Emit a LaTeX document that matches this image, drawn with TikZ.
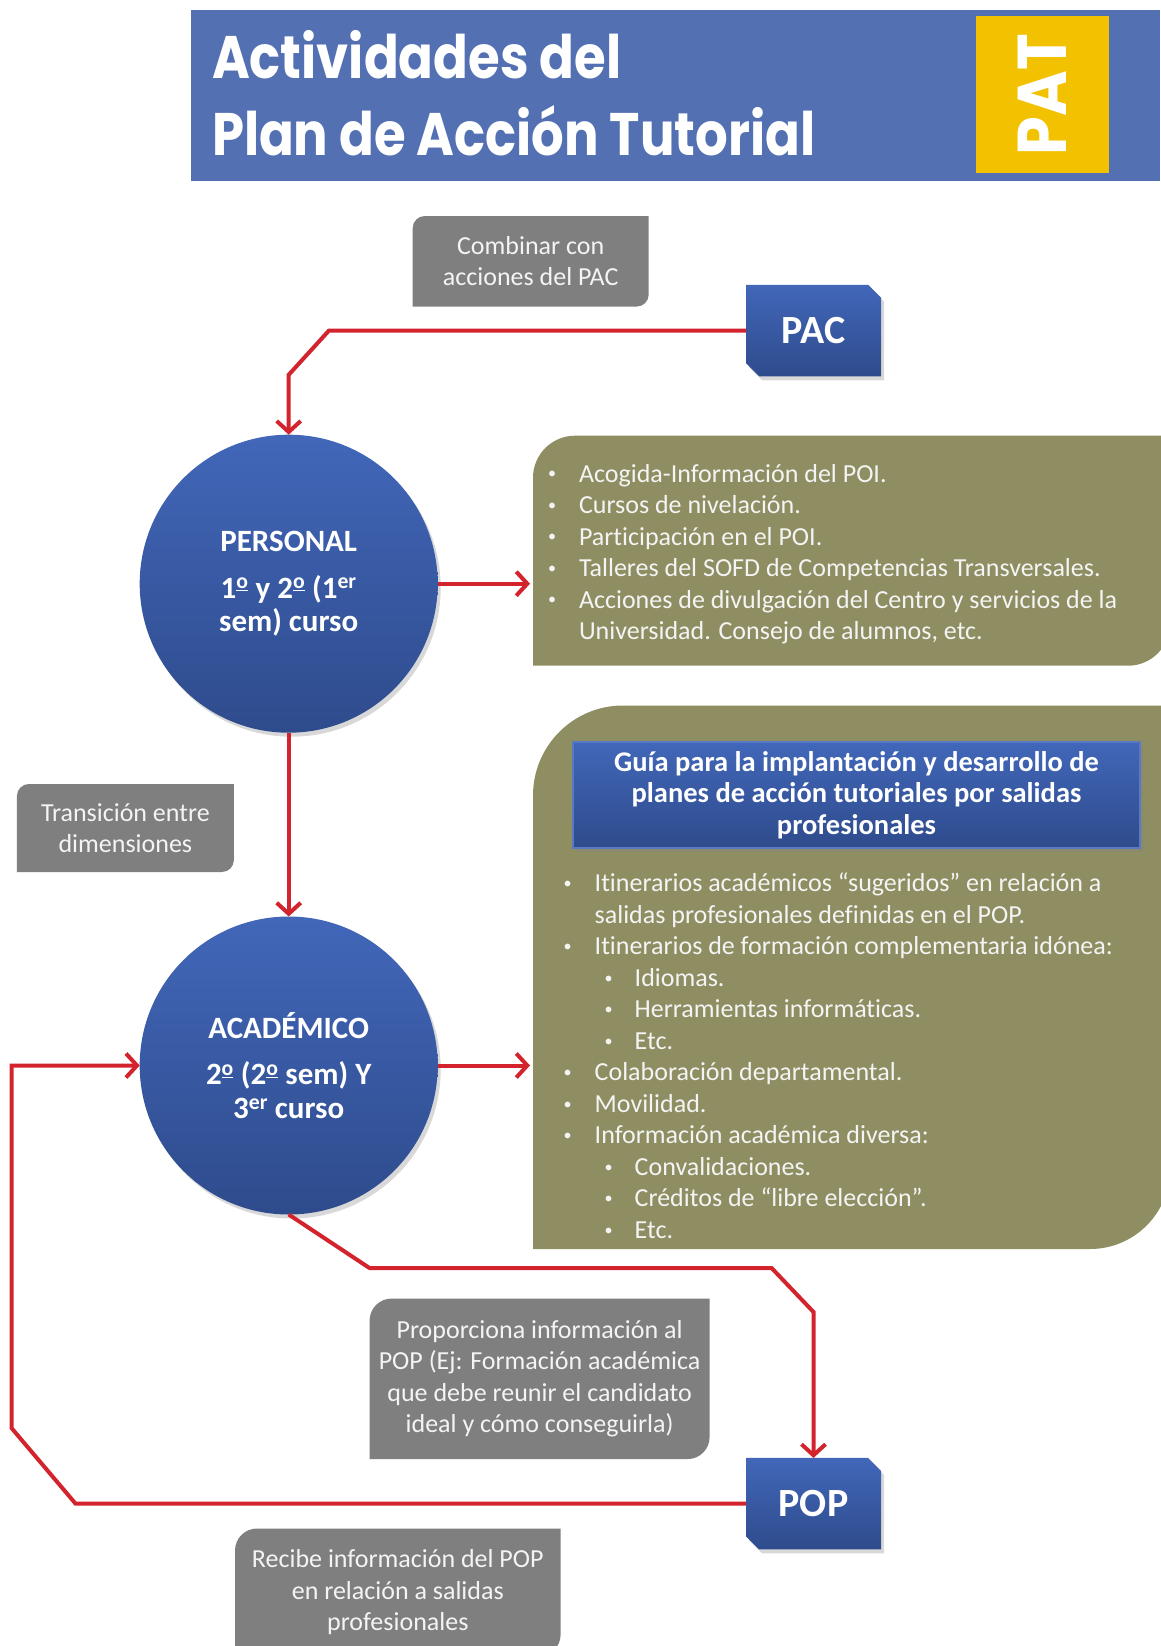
\documentclass[tikz,border=0pt]{standalone}
\usepackage{fontspec}
\setmainfont{Carlito}[Ligatures=NoCommon]
\newfontfamily\titlefont[FakeStretch=0.855]{Poppins}
\newfontfamily\patfont[FakeStretch=0.9]{Poppins}
\usetikzlibrary{shadows,arrows.meta,calc}
\definecolor{bannerblue}{RGB}{83,112,179}
\definecolor{patyellow}{RGB}{242,193,0}
\definecolor{redline}{RGB}{211,36,46}
\definecolor{boxgray}{RGB}{127,127,127}
\definecolor{olivebox}{RGB}{143,142,98}
\definecolor{bluetop}{RGB}{66,103,185}
\definecolor{bluebot}{RGB}{46,75,140}
\definecolor{blueedge}{RGB}{88,122,196}
\definecolor{lighttext}{RGB}{244,244,244}
\pgfdeclarelayer{bg}
\pgfsetlayers{bg,main}
\newcommand\smallbullet{\raisebox{0.12em}{\scalebox{0.62}{\textbullet}}}
\newcommand\bul{\makebox[31pt][l]{\smallbullet}}
\newcommand\cont{\hspace*{31pt}}
\newcommand\subbul{\hspace*{41pt}\makebox[30pt][l]{\smallbullet}}
\newcommand\ord{\textsuperscript{\underline{o}}}
% rounded top-left (#2) and bottom-right (#3) corners
\newcommand\diagshape[4]{%
  \path[#4] ([yshift=-#2pt]#1.north west) arc[start angle=180,end angle=270,radius=#2]
    -- (#1.north east) -- ([yshift=#3pt]#1.south east) arc[start angle=0,end angle=90,radius=#3]
    -- (#1.south west) -- cycle;}
% snipped top-right and bottom-left corners
\newcommand\snipshape[3]{%
  \path[#3] (#1.north west) -- ([xshift=-#2pt]#1.north east) -- ([yshift=-#2pt]#1.north east)
    -- (#1.south east) -- ([xshift=#2pt]#1.south west) -- ([yshift=#2pt]#1.south west) -- cycle;}
\begin{document}
\begin{tikzpicture}[x=1pt,y=-1pt,
  geom/.style={inner sep=0pt, outer sep=0pt},
  conn/.style={draw=redline, line width=4pt, -{Straight Barb[length=11pt,width=24pt]}},
  graybox/.style={geom, text=lighttext, align=center, font=\fontsize{26}{31.5}\selectfont},
  listtext/.style={geom, text=lighttext, align=left, anchor=north west, font=\fontsize{26}{31.5}\selectfont},
  circ/.style={circle, geom, minimum size=298pt, top color=bluetop, bottom color=bluebot,
    drop shadow={opacity=0.3,shadow xshift=3pt,shadow yshift=-4pt},
    text=white, align=center, font=\bfseries\fontsize{31}{33.6}\selectfont},
  snipbox/.style={geom, minimum width=135pt, minimum height=91.5pt, text=white, font=\bfseries\fontsize{40}{40}\selectfont},
  snipfill/.style={top color=bluetop, bottom color=bluebot, drop shadow={opacity=0.3,shadow xshift=3pt,shadow yshift=-4pt}},
  titletext/.style={geom, anchor=base west, text=white, font=\titlefont\bfseries\fontsize{60}{60}\selectfont}
]
\useasboundingbox (0,0) rectangle (1160,1646);
\begin{pgfonlayer}{bg}
\fill[white] (0,0) rectangle (1160,1646);
\end{pgfonlayer}

% ---- title banner
\node[geom, fill=bannerblue, minimum width=969pt, minimum height=170pt, anchor=north west] (banner) at (191,10.5) {};
\node[geom, fill=patyellow, minimum width=133pt, minimum height=157pt, anchor=north west] (patbox) at (976,16) {};
\node[geom, rotate=90, text=white, font=\patfont\bfseries\fontsize{69}{69}\selectfont] (pat) at (patbox.center) {PAT};
\node[titletext] (t1) at (212,78.7) {Actividades del};
\node[titletext] (t2) at (212,155.4) {Plan de Acción Tutorial};

% ---- gray note boxes
\node[graybox, minimum width=236pt, minimum height=90.5pt] (comb) at (530.7,261.3) {Combinar con\\acciones del PAC};
\node[graybox, minimum width=217pt, minimum height=88pt] (trans) at (125.4,828) {Transición entre\\dimensiones};
\node[graybox, minimum width=340pt, minimum height=160.5pt] (prop) at (539.6,1378.8) {Proporciona información al\\POP (Ej: Formación académica\\que debe reunir el candidato\\ideal y cómo conseguirla)};
\node[graybox, minimum width=325.6pt, minimum height=128pt] (recibe) at (397.8,1592.5) {Recibe información del POP\\en relación a salidas\\profesionales};
\begin{pgfonlayer}{bg}
\diagshape{comb}{12}{12}{fill=boxgray}
\diagshape{trans}{12}{12}{fill=boxgray}
\diagshape{prop}{22}{22}{fill=boxgray}
\diagshape{recibe}{22}{22}{fill=boxgray}
\end{pgfonlayer}

% ---- PAC / POP
\node[snipbox] (pac) at (813.5,330.5) {PAC};
\node[snipbox] (pop) at (813.5,1503.7) {POP};
\begin{pgfonlayer}{bg}
\snipshape{pac}{13}{snipfill}
\snipshape{pop}{13}{snipfill}
\end{pgfonlayer}

% ---- circles
\node[circ] (per) at (288.7,583.7) {PERSONAL\\[13pt]1\ord{} y 2\ord{} (1\textsuperscript{er}\\sem) curso};
\node[circ] (aca) at (288.7,1065.5) {ACADÉMICO\\[13pt]2\ord{} (2\ord{} sem) Y\\3\textsuperscript{er} curso};

% ---- olive boxes
\node[geom, minimum width=637pt, minimum height=230pt, anchor=north west] (ob1) at (533,435.7) {};
\node[geom, minimum width=637pt, minimum height=543.5pt, anchor=north west] (ob2) at (533,705.5) {};
\begin{pgfonlayer}{bg}
\diagshape{ob1}{42}{42}{fill=olivebox}
\diagshape{ob2}{90}{80}{fill=olivebox}
\end{pgfonlayer}

\node[listtext] (list1) at (548,464) {%
\bul Acogida-Información del POI.\\
\bul Cursos de nivelación.\\
\bul Participación en el POI.\\
\bul Talleres del SOFD de Competencias Transversales.\\
\bul Acciones de divulgación del Centro y servicios de la\\
\cont Universidad. Consejo de alumnos, etc.};

\node[geom, minimum width=567pt, minimum height=106pt, top color=bluetop, bottom color=bluebot,
  draw=blueedge, line width=1.2pt,
  drop shadow={opacity=0.3,shadow xshift=3pt,shadow yshift=-4pt},
  text=white, align=center, font=\bfseries\fontsize{28.5}{31.5}\selectfont] (guia) at (856.5,795)
  {Guía para la implantación y desarrollo de\\planes de acción tutoriales por salidas\\profesionales};

\node[listtext] (list2) at (563.7,873) {%
\bul Itinerarios académicos “sugeridos” en relación a\\
\cont salidas profesionales definidas en el POP.\\
\bul Itinerarios de formación complementaria idónea:\\
\subbul Idiomas.\\
\subbul Herramientas informáticas.\\
\subbul Etc.\\
\bul Colaboración departamental.\\
\bul Movilidad.\\
\bul Información académica diversa:\\
\subbul Convalidaciones.\\
\subbul Créditos de “libre elección”.\\
\subbul Etc.};

% ---- connectors
\coordinate (c1) at (329,330.5);
\coordinate (c2) at (288.7,374.8);
\coordinate (c3) at (369.5,1268);
\coordinate (c4) at (771.6,1268);
\coordinate (c5) at (813.5,1312);
\coordinate (c6) at (75.6,1503.7);
\coordinate (c7) at (11.5,1428);
\coordinate (c8) at (11.5,1065.5);
\draw[conn] (pac.west) -- (c1) -- (c2) -- (per.north);
\draw[conn] (per.south) -- (aca.north);
\draw[conn, shorten >=3pt] (per.east) -- (per.east -| ob1.west);
\draw[conn, shorten >=3pt] (aca.east) -- (aca.east -| ob2.west);
\draw[conn] (aca.south) -- (c3) -- (c4) -- (c5) -- (pop.north);
\draw[conn] (pop.west) -- (c6) -- (c7) -- (c8) -- (aca.west);
\end{tikzpicture}
\end{document}
